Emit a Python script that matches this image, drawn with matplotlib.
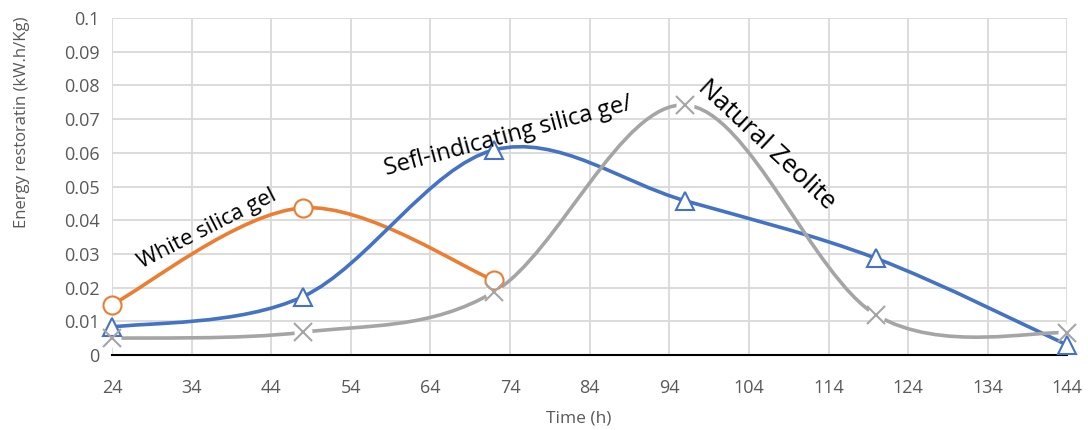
import numpy as np
import matplotlib.pyplot as plt
from matplotlib.path import Path
from matplotlib.patches import PathPatch

plt.rcParams['font.family'] = ['Open Sans', 'DejaVu Sans']

# data
time_h = [24, 48, 72, 96, 120, 144]
white_gel = [0.015, 0.0437, 0.0222]
self_ind_gel = [0.0083, 0.0174, 0.0609, 0.0458, 0.0287, 0.003]
zeolite = [0.005, 0.0068, 0.0188, 0.0742, 0.0119, 0.0066]

x_ticks = list(range(24, 145, 10))
y_ticks = [round(0.01 * i, 2) for i in range(11)]


def smooth_path(x, y):
    # Excel style smoothed line: Catmull-Rom segments as cubic bezier
    pts = np.column_stack([x, y]).astype(float)
    verts = [pts[0]]
    codes = [Path.MOVETO]
    n = len(pts)
    for i in range(n - 1):
        p0 = pts[i - 1] if i > 0 else pts[i]
        p1 = pts[i]
        p2 = pts[i + 1]
        p3 = pts[i + 2] if i + 2 < n else pts[i + 1]
        c1 = p1 + (p2 - p0) / 6.0
        c2 = p2 - (p3 - p1) / 6.0
        verts += [c1, c2, p2]
        codes += [Path.CURVE4] * 3
    return Path(verts, codes)


fig = plt.figure(figsize=(10.88, 4.30), dpi=100)
ax = fig.add_axes([0.103, 0.174, 0.878, 0.784])

series = [
    (time_h[:3], white_gel, '#ed7d31', 'o', 13),
    (time_h, self_ind_gel, '#4472c4', '^', 13),
    (time_h, zeolite, '#a5a5a5', 'x', 13),
]
for xs, ys, col, mk, ms in series:
    ax.add_patch(PathPatch(smooth_path(xs, ys), fill=False, edgecolor=col,
                           lw=2.6, capstyle='round', zorder=3))
    if mk == 'x':
        ax.plot(xs, ys, linestyle='none', marker='o', ms=ms, mfc='white',
                mec='none', zorder=4, clip_on=False)
        ax.plot(xs, ys, linestyle='none', marker=mk, ms=ms, mec=col,
                mew=1.5, zorder=5, clip_on=False)
    else:
        ax.plot(xs, ys, linestyle='none', marker=mk, ms=ms, mfc='white',
                mec=col, mew=1.5, zorder=5, clip_on=False)

ax.set_xlim(24, 144)
ax.set_ylim(0, 0.1)
ax.set_xticks(x_ticks)
ax.set_yticks(y_ticks)
ax.set_yticklabels(['0'] + [f'{v:g}' for v in y_ticks[1:]])
ax.grid(True, color='#d9d9d9', lw=1.3)
ax.set_axisbelow(True)
for s in ['top', 'right', 'left']:
    ax.spines[s].set_visible(False)
ax.spines['bottom'].set_color('black')
ax.spines['bottom'].set_linewidth(1.5)
ax.spines['bottom'].set_zorder(2)
ax.tick_params(axis='both', length=0, labelsize=13, colors='#595959')
ax.tick_params(axis='y', pad=9)
ax.tick_params(axis='x', pad=17)

ax.set_xlabel('Time (h)', fontsize=12.5, color='#595959')
ax.xaxis.set_label_coords(0.488, -0.187)
ax.xaxis.label.set_va('center')
ax.set_ylabel('Energy restoratin (kW.h/Kg)', fontsize=12, color='#595959')
ax.yaxis.set_label_coords(-0.094, 0.69)
ax.yaxis.label.set_va('center')

ax.text(36.0, 0.0375, 'White silica gel', rotation=27, fontsize=16,
        ha='center', va='center', rotation_mode='anchor', zorder=6)
ax.text(73.8, 0.0648, 'Sefl-indicating silica ge/', rotation=15, fontsize=17,
        ha='center', va='center', rotation_mode='anchor', zorder=6)
ax.text(106.2, 0.0623, 'Natural Zeolite', rotation=-43, fontsize=18.5,
        ha='center', va='center', rotation_mode='anchor', zorder=6)

fig.savefig('out.png', dpi=100)
